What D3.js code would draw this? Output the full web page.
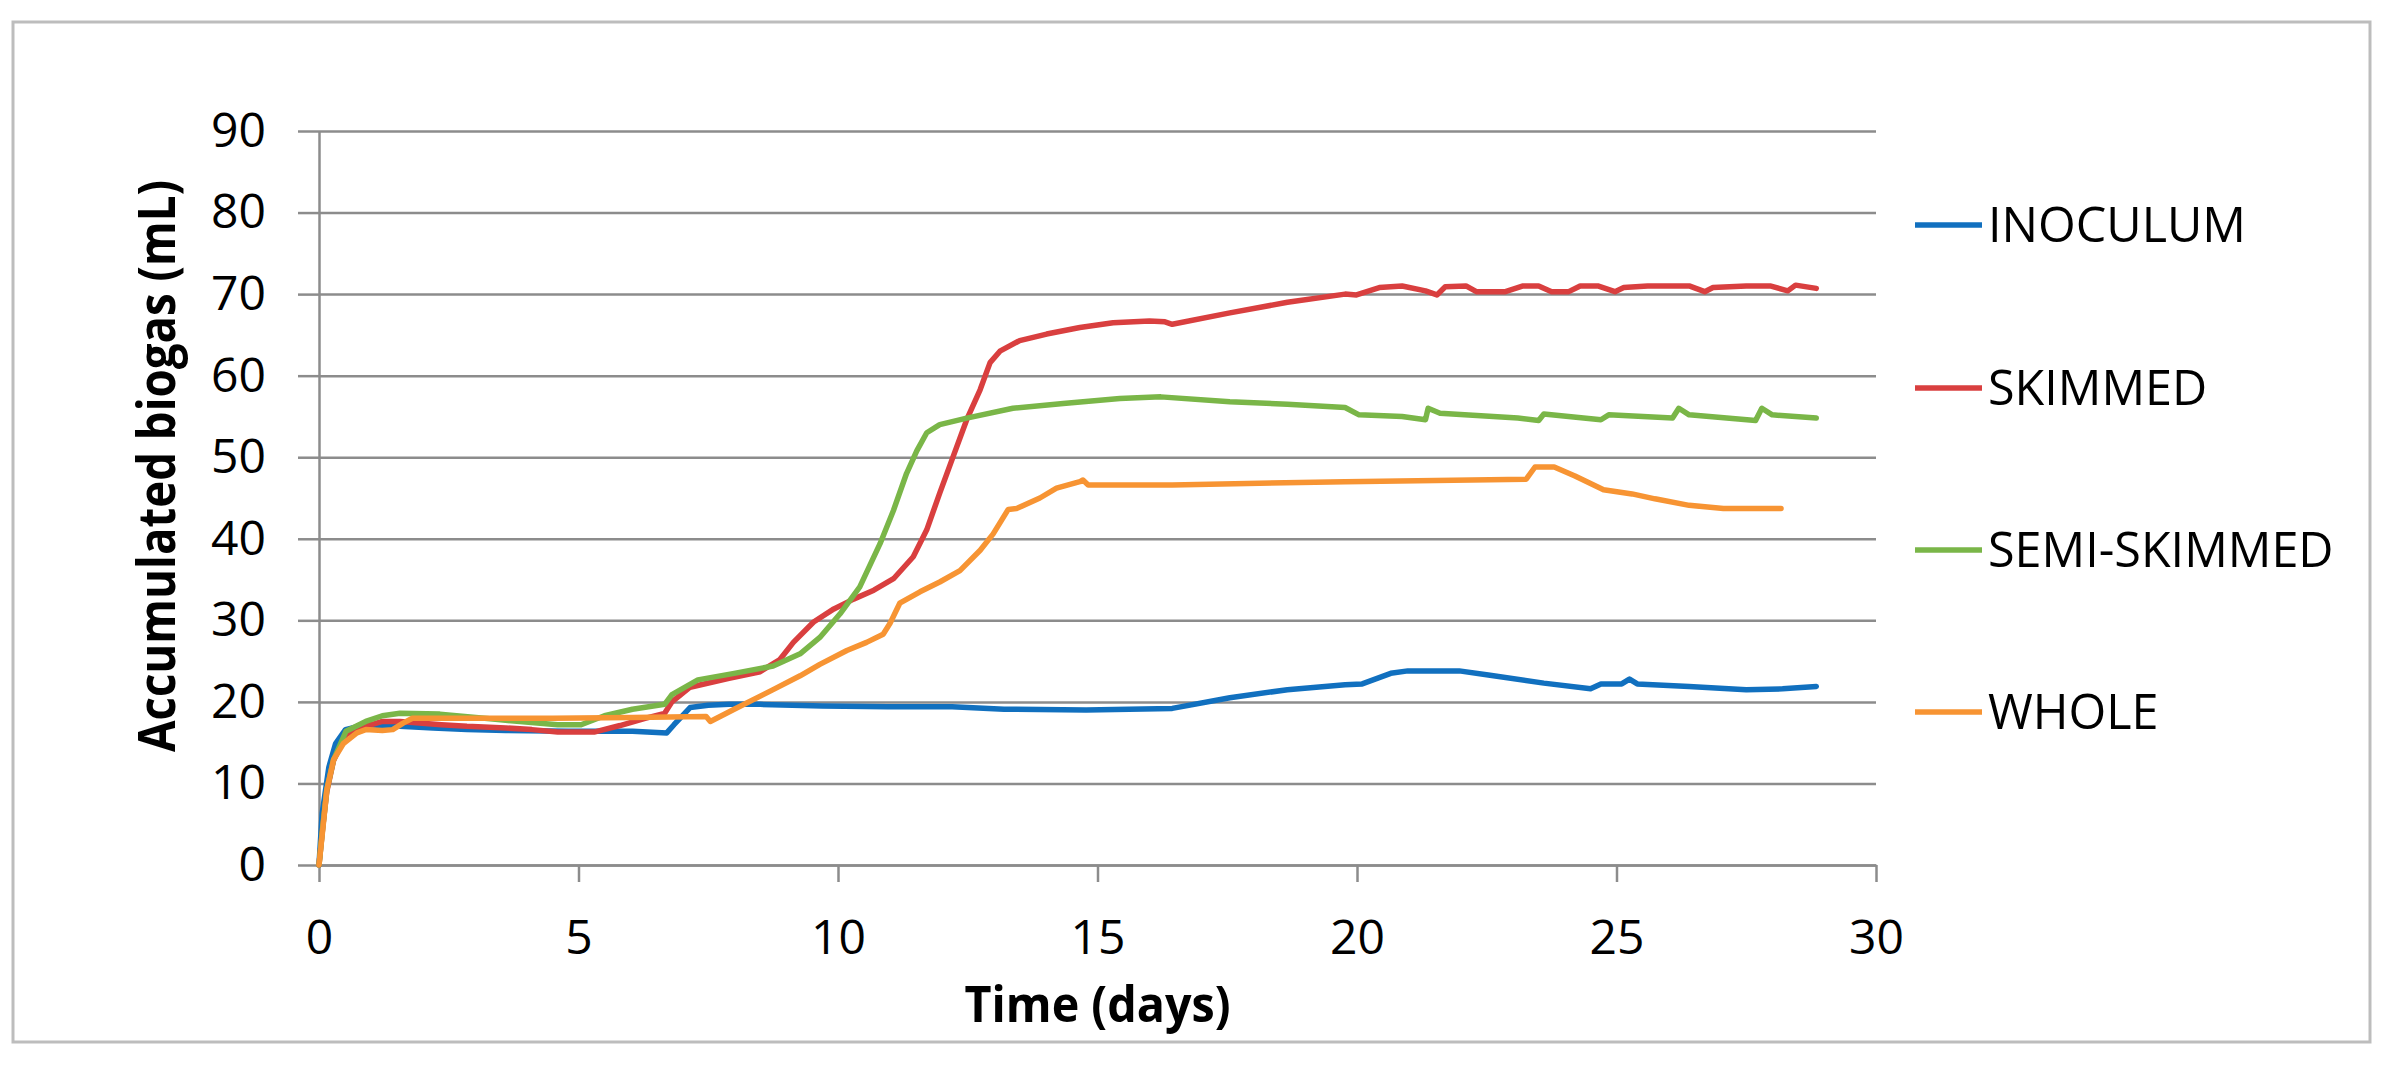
<!DOCTYPE html>
<html>
<head>
<meta charset="utf-8">
<script src="https://cdn.jsdelivr.net/npm/d3@7"></script>
<style>
  html, body { margin: 0; padding: 0; background: #fff; }
  svg { display: block; }
</style>
</head>
<body>
<svg id="chart" width="2396" height="1065"></svg>
<script>
// ---------- DATA ----------
const seriesNames = ["INOCULUM", "SKIMMED", "SEMI-SKIMMED", "WHOLE"];
const seriesColors = ["#1170bf", "#d93f3f", "#7ab648", "#f79433"];
const xTickValues = [0, 5, 10, 15, 20, 25, 30];
const yTickValues = [0, 10, 20, 30, 40, 50, 60, 70, 80, 90];
const xTitle = "Time (days)";
const yTitle = "Accumulated biogas (mL)";

const inoculumDays = [0, 0.06, 0.19, 0.32, 0.51, 0.9, 1.56, 2.2, 2.85, 3.6, 4.8, 6.04, 6.7, 6.84, 7.15, 7.5, 7.9, 8.5, 9.7, 10.96, 12.2, 13.2, 14.78, 16.44, 17.55, 18.66, 19.77, 20.1, 20.65, 20.98, 21.97, 22.53, 23.6, 24.5, 24.7, 25.1, 25.25, 25.4, 26.4, 27.5, 28.2, 28.85];
const inoculumValues = [0, 6.3, 12, 14.9, 16.6, 17.2, 17.0, 16.8, 16.6, 16.5, 16.4, 16.4, 16.2, 17.2, 19.3, 19.6, 19.7, 19.7, 19.5, 19.4, 19.4, 19.1, 19.0, 19.2, 20.5, 21.5, 22.1, 22.2, 23.5, 23.8, 23.8, 23.3, 22.3, 21.6, 22.2, 22.2, 22.8, 22.2, 21.9, 21.5, 21.6, 21.9];

const skimmedDays = [0, 0.07, 0.15, 0.28, 0.52, 0.9, 1.22, 1.56, 2.36, 2.85, 3.6, 4.1, 4.6, 5.3, 5.8, 6.3, 6.66, 6.8, 7.15, 7.9, 8.5, 8.88, 9.14, 9.53, 9.92, 10.3, 10.69, 11.07, 11.45, 11.71, 11.96, 12.22, 12.48, 12.74, 12.93, 13.12, 13.5, 14.02, 14.66, 15.3, 16.0, 16.3, 16.44, 17.55, 18.66, 19.77, 19.99, 20.43, 20.87, 21.32, 21.54, 21.7, 22.1, 22.3, 22.86, 23.2, 23.5, 23.75, 24.08, 24.3, 24.64, 24.97, 25.14, 25.6, 25.97, 26.4, 26.7, 26.86, 27.5, 27.96, 28.3, 28.45, 28.85];
const skimmedValues = [0, 4.5, 9, 12.8, 16.0, 17.0, 17.6, 17.6, 17.2, 17.0, 16.8, 16.6, 16.3, 16.3, 17.1, 18.0, 18.6, 20.0, 21.8, 22.9, 23.7, 25.2, 27.3, 29.8, 31.4, 32.6, 33.7, 35.1, 37.8, 41.1, 45.6, 50.1, 54.6, 58.3, 61.6, 63.0, 64.3, 65.1, 65.9, 66.5, 66.7, 66.6, 66.3, 67.7, 69.0, 70.0, 69.9, 70.8, 71.0, 70.4, 69.9, 70.9, 71.0, 70.3, 70.3, 71.0, 71.0, 70.3, 70.3, 71.0, 71.0, 70.3, 70.8, 71.0, 71.0, 71.0, 70.3, 70.8, 71.0, 71.0, 70.4, 71.1, 70.7];

const semiDays = [0, 0.07, 0.15, 0.28, 0.52, 0.9, 1.22, 1.56, 2.33, 3.5, 4.6, 5.05, 5.5, 6.04, 6.66, 6.8, 7.3, 8.0, 8.75, 9.27, 9.65, 10.04, 10.42, 10.81, 11.07, 11.32, 11.52, 11.71, 11.96, 12.48, 13.37, 14.34, 15.43, 16.22, 17.55, 18.66, 19.77, 20.04, 20.87, 21.32, 21.37, 21.6, 23.1, 23.5, 23.6, 24.7, 24.85, 26.08, 26.2, 26.4, 27.68, 27.8, 28.0, 28.85];
const semiValues = [0, 4.5, 9.2, 12.9, 16.4, 17.6, 18.3, 18.6, 18.5, 17.8, 17.2, 17.2, 18.3, 19.1, 19.7, 20.9, 22.7, 23.5, 24.4, 25.9, 27.9, 30.8, 34.1, 39.4, 43.5, 48.0, 50.8, 53.0, 54.0, 54.8, 56.0, 56.6, 57.2, 57.4, 56.8, 56.5, 56.1, 55.2, 55.0, 54.6, 56.0, 55.4, 54.8, 54.5, 55.3, 54.6, 55.2, 54.8, 56.0, 55.2, 54.5, 56.0, 55.2, 54.8];

const wholeDays = [0, 0.07, 0.15, 0.28, 0.47, 0.73, 0.9, 1.22, 1.42, 1.62, 1.8, 2.85, 4.5, 6.04, 7.46, 7.54, 8.0, 8.75, 9.27, 9.65, 10.17, 10.55, 10.87, 11.0, 11.19, 11.58, 11.96, 12.35, 12.74, 12.99, 13.28, 13.44, 13.89, 14.21, 14.66, 14.72, 14.82, 16.44, 19.77, 23.26, 23.43, 23.8, 24.2, 24.75, 25.3, 25.74, 26.4, 27.06, 28.17];
const wholeValues = [0, 4.2, 9.2, 12.9, 14.9, 16.2, 16.6, 16.5, 16.6, 17.4, 18.0, 18.0, 18.0, 18.1, 18.2, 17.6, 19.1, 21.5, 23.2, 24.6, 26.3, 27.3, 28.3, 29.6, 32.1, 33.5, 34.7, 36.1, 38.6, 40.6, 43.6, 43.7, 45.0, 46.2, 47.0, 47.2, 46.6, 46.6, 47.0, 47.3, 48.8, 48.8, 47.7, 46.0, 45.5, 44.9, 44.1, 43.7, 43.7];

const seriesDays = [inoculumDays, skimmedDays, semiDays, wholeDays];
const seriesValues = [inoculumValues, skimmedValues, semiValues, wholeValues];

// ---------- LAYOUT ----------
const svg = d3.select("#chart");
const FONT = "'Open Sans', 'DejaVu Sans', sans-serif";
const plot = { left: 319, right: 1876, top: 131, bottom: 865 };
const gridColor = "#8c8c8c";

// outer border
svg.append("rect")
  .attr("x", 13).attr("y", 22).attr("width", 2357).attr("height", 1020)
  .attr("fill", "#fff").attr("stroke", "#bdbdbd").attr("stroke-width", 3);

const x = d3.scaleLinear().domain([0, 30]).range([plot.left, plot.right]);
const y = d3.scaleLinear().domain([0, 90]).range([plot.bottom, plot.top]);

// horizontal gridlines
const grid = svg.append("g").attr("transform", `translate(${plot.left},0)`)
  .call(d3.axisLeft(y).tickValues(yTickValues).tickSize(-(plot.right - plot.left)).tickFormat(""));
grid.select(".domain").remove();
grid.selectAll("line").attr("stroke", gridColor).attr("stroke-width", 2.5);

// y axis
const yAxis = svg.append("g").attr("transform", `translate(${plot.left},0)`)
  .call(d3.axisLeft(y).tickValues(yTickValues).tickSize(21).tickPadding(32).tickSizeOuter(0));
yAxis.select(".domain").attr("stroke", gridColor).attr("stroke-width", 2.5);
yAxis.selectAll("line").attr("stroke", gridColor).attr("stroke-width", 2.5);
yAxis.selectAll("text").attr("font-family", FONT).attr("font-size", 48).attr("fill", "#000");

// x axis
const xAxis = svg.append("g").attr("transform", `translate(0,${plot.bottom})`)
  .call(d3.axisBottom(x).tickValues(xTickValues).tickSize(17).tickPadding(38).tickSizeOuter(0));
xAxis.select(".domain").attr("stroke", gridColor).attr("stroke-width", 2.5);
xAxis.selectAll("line").attr("stroke", gridColor).attr("stroke-width", 2.5);
xAxis.selectAll("text").attr("font-family", FONT).attr("font-size", 48).attr("fill", "#000");

// axis titles
svg.append("text")
  .attr("x", (plot.left + plot.right) / 2).attr("y", 1022)
  .attr("text-anchor", "middle")
  .attr("font-family", FONT).attr("font-weight", "bold").attr("font-size", 50)
  .attr("textLength", 266).attr("lengthAdjust", "spacingAndGlyphs")
  .text(xTitle);

svg.append("text")
  .attr("transform", "translate(175,466) rotate(-90)")
  .attr("text-anchor", "middle")
  .attr("font-family", FONT).attr("font-weight", "bold").attr("font-size", 52)
  .attr("textLength", 572).attr("lengthAdjust", "spacingAndGlyphs")
  .text(yTitle);

// lines
const line = d3.line().x(d => x(d[0])).y(d => y(d[1]));
seriesNames.forEach((name, i) => {
  const pts = seriesDays[i].map((t, j) => [t, seriesValues[i][j]]);
  svg.append("path")
    .datum(pts)
    .attr("fill", "none")
    .attr("stroke", seriesColors[i])
    .attr("stroke-width", 5.5)
    .attr("stroke-linejoin", "round")
    .attr("stroke-linecap", "round")
    .attr("d", line);
});

// legend
const legendY = [225, 388, 550, 712];
const legend = svg.append("g");
seriesNames.forEach((name, i) => {
  legend.append("line")
    .attr("x1", 1915).attr("x2", 1982)
    .attr("y1", legendY[i]).attr("y2", legendY[i])
    .attr("stroke", seriesColors[i]).attr("stroke-width", 5.5);
  legend.append("text")
    .attr("x", 1988).attr("y", legendY[i])
    .attr("dy", "0.36em")
    .attr("font-family", FONT).attr("font-size", 48.5).attr("fill", "#000")
    .text(name);
});
</script>
</body>
</html>
